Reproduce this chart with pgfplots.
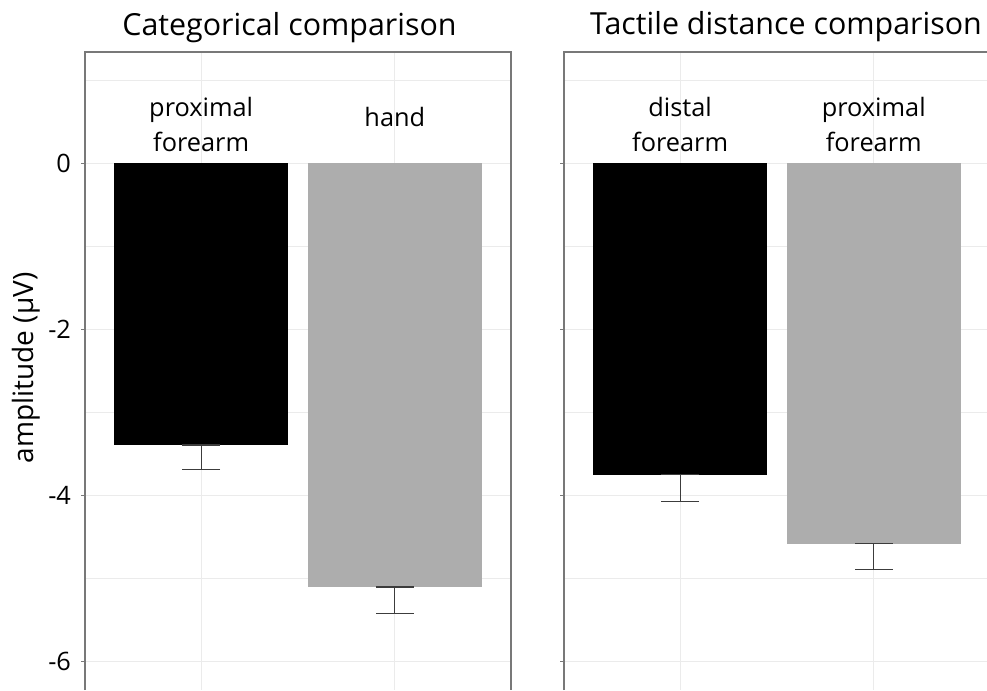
\documentclass[border=0pt]{standalone}
\usepackage{pgfplots}
\pgfplotsset{compat=1.18}
\usepackage{fontspec}
\setmainfont{Open Sans}

\definecolor{bargray}{RGB}{173,173,173}
\definecolor{gridgray}{RGB}{235,235,235}
\definecolor{framegray}{RGB}{120,120,120}
\definecolor{errgray}{RGB}{60,60,60}

\pgfplotsset{
  panel/.style={
    scale only axis,
    anchor=south west,
    height=478.5pt,
    xmin=0.4, ymin=-6.34, ymax=1.34,
    clip=false,
    axis line style={draw=none},
    xtick={1,2}, xticklabels={}, xtick style={draw=none},
    ytick={-6,-4,-2,0},
    minor ytick={-5,-3,-1,1},
    ytick pos=left,
    tick align=outside,
    major tick length=3pt,
    minor tick length=0pt,
    ytick style={framegray, line width=0.8pt},
    xmajorgrids, ymajorgrids, yminorgrids,
    major grid style={gridgray, line width=0.9pt},
    minor grid style={gridgray, line width=0.9pt},
    yticklabel style={font=\fontsize{19}{22}\selectfont, xshift=-4pt},
  },
  % error bars run from the mean down by one standard error
  myerrs/.style={
    draw=none, mark=none, forget plot,
    error bars/.cd, y dir=both, y explicit,
    error bar style={errgray, line width=0.9pt},
    error mark options={rotate=90, errgray, line width=0.9pt, mark size=14.25pt},
  },
  mybar/.style={ybar, bar width=0.9, bar shift=0pt, draw=none, fill=#1},
}
\tikzset{lab/.style={anchor=base, font=\fontsize{19}{22}\selectfont}}

\begin{document}
\begin{tikzpicture}
\useasboundingbox (0,0) rectangle (740.25pt,517.5pt);

% left panel: categorical comparison
\begin{axis}[panel, at={(63.75pt,0pt)}, width=319.5pt, xmax=2.6,
  yticklabels={-6,-4,-2,0}]
  \addplot[mybar=black] coordinates {(1,-3.39)};
  \addplot[mybar=bargray] coordinates {(2,-5.10)};
  \addplot[myerrs] coordinates {
    (1,-3.39) += (0,0) -= (0,0.30)
    (2,-5.10) += (0,0) -= (0,0.32)};
  \node[lab] at (axis cs:1,0.569) {proximal};
  \node[lab] at (axis cs:1,0.148) {forearm};
  \node[lab] at (axis cs:2,0.44) {hand};
  \draw[framegray, line width=1pt] (rel axis cs:0,0) -- (rel axis cs:0,1)
    -- (rel axis cs:1,1) -- (rel axis cs:1,0);
\end{axis}

% right panel: tactile distance comparison
\begin{axis}[panel, at={(423pt,0pt)}, width=317.25pt, xmax=2.585,
  yticklabels={}]
  \addplot[mybar=black] coordinates {(1,-3.75)};
  \addplot[mybar=bargray] coordinates {(2,-4.58)};
  \addplot[myerrs] coordinates {
    (1,-3.75) += (0,0) -= (0,0.32)
    (2,-4.58) += (0,0) -= (0,0.305)};
  \node[lab] at (axis cs:1,0.569) {distal};
  \node[lab] at (axis cs:1,0.148) {forearm};
  \node[lab] at (axis cs:2,0.569) {proximal};
  \node[lab] at (axis cs:2,0.148) {forearm};
  \draw[framegray, line width=1pt] (rel axis cs:0,0) -- (rel axis cs:0,1)
    -- (rel axis cs:1.02,1);
\end{axis}

\node[anchor=base, font=\fontsize{22.8}{26}\selectfont] at (217.1pt,490.5pt) {Categorical comparison};
\node[anchor=base, font=\fontsize{22.8}{26}\selectfont] at (589.5pt,491.25pt) {Tactile distance comparison};
\node[anchor=base, rotate=90, font=\fontsize{21}{24}\selectfont] at (24.75pt,241.5pt) {amplitude (µV)};
\end{tikzpicture}
\end{document}
